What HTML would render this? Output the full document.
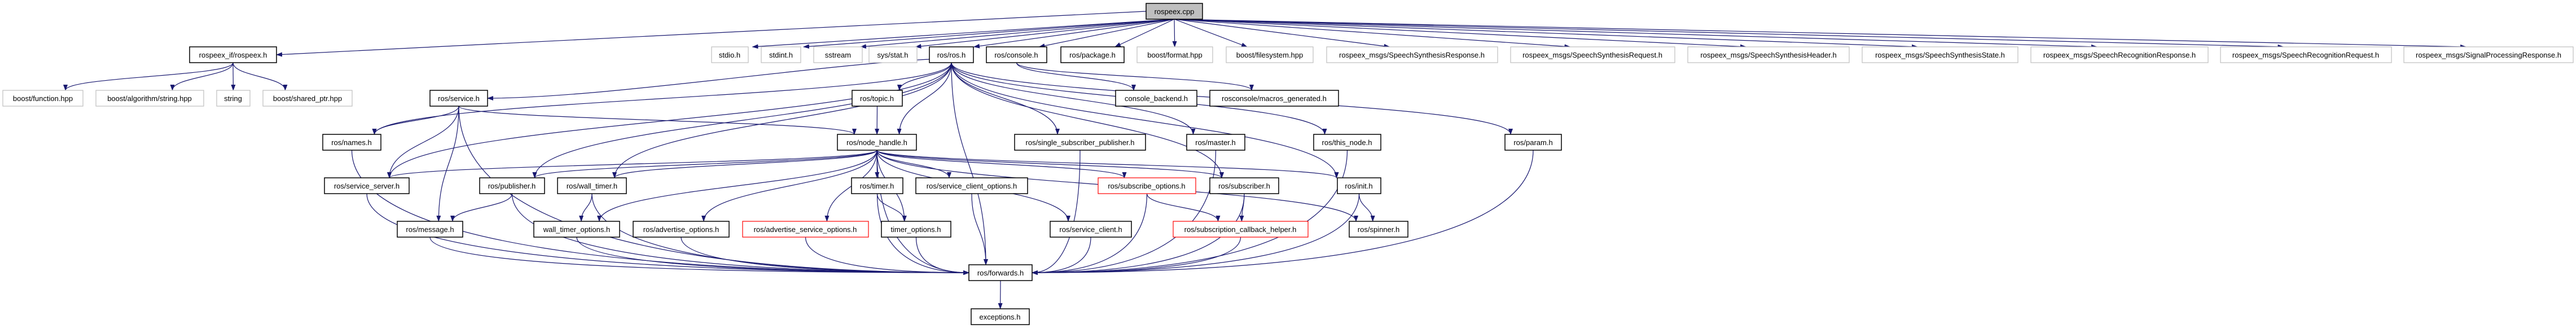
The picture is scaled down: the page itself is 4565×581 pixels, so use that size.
<!DOCTYPE html>
<html><head><meta charset="utf-8"><style>
html,body{margin:0;padding:0;background:#fff;width:4565px;height:581px;overflow:hidden}
svg text{font-family:"Liberation Sans",sans-serif;font-size:13px;fill:#000}
</style></head><body>
<svg id="g" width="4565" height="581" xmlns="http://www.w3.org/2000/svg">
<defs><marker id="a" markerWidth="11" markerHeight="8" refX="10" refY="4" orient="auto" markerUnits="userSpaceOnUse"><path d="M0,0 L11,4 L0,8 z" fill="#191970"/></marker></defs>
<g id="edges" fill="none" stroke="#191970" stroke-width="1.2"></g>
<g id="nodes">
<rect x="2031" y="6" width="100" height="28" fill="#bfbfbf" stroke="#000" stroke-width="1.5"/><text x="2081" y="25" text-anchor="middle">rospeex.cpp</text>
<rect x="336" y="83" width="154" height="28" fill="#fff" stroke="#000" stroke-width="1.5"/><text x="413" y="102" text-anchor="middle">rospeex_if/rospeex.h</text>
<rect x="1261" y="83" width="65" height="28" fill="#fff" stroke="#bfbfbf" stroke-width="1.2"/><text x="1293" y="102" text-anchor="middle">stdio.h</text>
<rect x="1349" y="83" width="70" height="28" fill="#fff" stroke="#bfbfbf" stroke-width="1.2"/><text x="1384" y="102" text-anchor="middle">stdint.h</text>
<rect x="1442" y="83" width="86" height="28" fill="#fff" stroke="#bfbfbf" stroke-width="1.2"/><text x="1485" y="102" text-anchor="middle">sstream</text>
<rect x="1540" y="83" width="85" height="28" fill="#fff" stroke="#bfbfbf" stroke-width="1.2"/><text x="1582" y="102" text-anchor="middle">sys/stat.h</text>
<rect x="1647" y="83" width="78" height="28" fill="#fff" stroke="#000" stroke-width="1.5"/><text x="1686" y="102" text-anchor="middle">ros/ros.h</text>
<rect x="1748" y="83" width="107" height="28" fill="#fff" stroke="#000" stroke-width="1.5"/><text x="1801" y="102" text-anchor="middle">ros/console.h</text>
<rect x="1880" y="83" width="112" height="28" fill="#fff" stroke="#000" stroke-width="1.5"/><text x="1936" y="102" text-anchor="middle">ros/package.h</text>
<rect x="2015" y="83" width="134" height="28" fill="#fff" stroke="#bfbfbf" stroke-width="1.2"/><text x="2082" y="102" text-anchor="middle">boost/format.hpp</text>
<rect x="2173" y="83" width="154" height="28" fill="#fff" stroke="#bfbfbf" stroke-width="1.2"/><text x="2250" y="102" text-anchor="middle">boost/filesystem.hpp</text>
<rect x="2351" y="83" width="303" height="28" fill="#fff" stroke="#bfbfbf" stroke-width="1.2"/><text x="2502" y="102" text-anchor="middle">rospeex_msgs/SpeechSynthesisResponse.h</text>
<rect x="2677" y="83" width="291" height="28" fill="#fff" stroke="#bfbfbf" stroke-width="1.2"/><text x="2822" y="102" text-anchor="middle">rospeex_msgs/SpeechSynthesisRequest.h</text>
<rect x="2991" y="83" width="286" height="28" fill="#fff" stroke="#bfbfbf" stroke-width="1.2"/><text x="3134" y="102" text-anchor="middle">rospeex_msgs/SpeechSynthesisHeader.h</text>
<rect x="3300" y="83" width="276" height="28" fill="#fff" stroke="#bfbfbf" stroke-width="1.2"/><text x="3438" y="102" text-anchor="middle">rospeex_msgs/SpeechSynthesisState.h</text>
<rect x="3599" y="83" width="314" height="28" fill="#fff" stroke="#bfbfbf" stroke-width="1.2"/><text x="3756" y="102" text-anchor="middle">rospeex_msgs/SpeechRecognitionResponse.h</text>
<rect x="3935" y="83" width="303" height="28" fill="#fff" stroke="#bfbfbf" stroke-width="1.2"/><text x="4086" y="102" text-anchor="middle">rospeex_msgs/SpeechRecognitionRequest.h</text>
<rect x="4260" y="83" width="300" height="28" fill="#fff" stroke="#bfbfbf" stroke-width="1.2"/><text x="4410" y="102" text-anchor="middle">rospeex_msgs/SignalProcessingResponse.h</text>
<rect x="5" y="160" width="142" height="28" fill="#fff" stroke="#bfbfbf" stroke-width="1.2"/><text x="76" y="179" text-anchor="middle">boost/function.hpp</text>
<rect x="170" y="160" width="191" height="28" fill="#fff" stroke="#bfbfbf" stroke-width="1.2"/><text x="265" y="179" text-anchor="middle">boost/algorithm/string.hpp</text>
<rect x="384" y="160" width="59" height="28" fill="#fff" stroke="#bfbfbf" stroke-width="1.2"/><text x="413" y="179" text-anchor="middle">string</text>
<rect x="466" y="160" width="158" height="28" fill="#fff" stroke="#bfbfbf" stroke-width="1.2"/><text x="545" y="179" text-anchor="middle">boost/shared_ptr.hpp</text>
<rect x="762" y="160" width="102" height="28" fill="#fff" stroke="#000" stroke-width="1.5"/><text x="813" y="179" text-anchor="middle">ros/service.h</text>
<rect x="1510" y="160" width="89" height="28" fill="#fff" stroke="#000" stroke-width="1.5"/><text x="1554" y="179" text-anchor="middle">ros/topic.h</text>
<rect x="1977" y="160" width="144" height="28" fill="#fff" stroke="#000" stroke-width="1.5"/><text x="2049" y="179" text-anchor="middle">console_backend.h</text>
<rect x="2144" y="160" width="228" height="28" fill="#fff" stroke="#000" stroke-width="1.5"/><text x="2258" y="179" text-anchor="middle">rosconsole/macros_generated.h</text>
<rect x="572" y="238" width="103" height="28" fill="#fff" stroke="#000" stroke-width="1.5"/><text x="623" y="257" text-anchor="middle">ros/names.h</text>
<rect x="1484" y="238" width="140" height="28" fill="#fff" stroke="#000" stroke-width="1.5"/><text x="1554" y="257" text-anchor="middle">ros/node_handle.h</text>
<rect x="1798" y="238" width="232" height="28" fill="#fff" stroke="#000" stroke-width="1.5"/><text x="1914" y="257" text-anchor="middle">ros/single_subscriber_publisher.h</text>
<rect x="2103" y="238" width="103" height="28" fill="#fff" stroke="#000" stroke-width="1.5"/><text x="2154" y="257" text-anchor="middle">ros/master.h</text>
<rect x="2328" y="238" width="119" height="28" fill="#fff" stroke="#000" stroke-width="1.5"/><text x="2387" y="257" text-anchor="middle">ros/this_node.h</text>
<rect x="2667" y="238" width="100" height="28" fill="#fff" stroke="#000" stroke-width="1.5"/><text x="2717" y="257" text-anchor="middle">ros/param.h</text>
<rect x="575" y="315" width="150" height="28" fill="#fff" stroke="#000" stroke-width="1.5"/><text x="650" y="334" text-anchor="middle">ros/service_server.h</text>
<rect x="850" y="315" width="115" height="28" fill="#fff" stroke="#000" stroke-width="1.5"/><text x="907" y="334" text-anchor="middle">ros/publisher.h</text>
<rect x="988" y="315" width="122" height="28" fill="#fff" stroke="#000" stroke-width="1.5"/><text x="1049" y="334" text-anchor="middle">ros/wall_timer.h</text>
<rect x="1509" y="315" width="91" height="28" fill="#fff" stroke="#000" stroke-width="1.5"/><text x="1554" y="334" text-anchor="middle">ros/timer.h</text>
<rect x="1623" y="315" width="198" height="28" fill="#fff" stroke="#000" stroke-width="1.5"/><text x="1722" y="334" text-anchor="middle">ros/service_client_options.h</text>
<rect x="1946" y="315" width="173" height="28" fill="#fff" stroke="#ff0000" stroke-width="1.2"/><text x="2032" y="334" text-anchor="middle">ros/subscribe_options.h</text>
<rect x="2144" y="315" width="122" height="28" fill="#fff" stroke="#000" stroke-width="1.5"/><text x="2205" y="334" text-anchor="middle">ros/subscriber.h</text>
<rect x="2370" y="315" width="77" height="28" fill="#fff" stroke="#000" stroke-width="1.5"/><text x="2408" y="334" text-anchor="middle">ros/init.h</text>
<rect x="704" y="392" width="116" height="28" fill="#fff" stroke="#000" stroke-width="1.5"/><text x="762" y="411" text-anchor="middle">ros/message.h</text>
<rect x="946" y="392" width="152" height="28" fill="#fff" stroke="#000" stroke-width="1.5"/><text x="1022" y="411" text-anchor="middle">wall_timer_options.h</text>
<rect x="1122" y="392" width="170" height="28" fill="#fff" stroke="#000" stroke-width="1.5"/><text x="1207" y="411" text-anchor="middle">ros/advertise_options.h</text>
<rect x="1316" y="392" width="223" height="28" fill="#fff" stroke="#ff0000" stroke-width="1.2"/><text x="1427" y="411" text-anchor="middle">ros/advertise_service_options.h</text>
<rect x="1562" y="392" width="123" height="28" fill="#fff" stroke="#000" stroke-width="1.5"/><text x="1623" y="411" text-anchor="middle">timer_options.h</text>
<rect x="1861" y="392" width="144" height="28" fill="#fff" stroke="#000" stroke-width="1.5"/><text x="1933" y="411" text-anchor="middle">ros/service_client.h</text>
<rect x="2079" y="392" width="239" height="28" fill="#fff" stroke="#ff0000" stroke-width="1.2"/><text x="2198" y="411" text-anchor="middle">ros/subscription_callback_helper.h</text>
<rect x="2391" y="392" width="104" height="28" fill="#fff" stroke="#000" stroke-width="1.5"/><text x="2443" y="411" text-anchor="middle">ros/spinner.h</text>
<rect x="1717" y="469" width="112" height="28" fill="#fff" stroke="#000" stroke-width="1.5"/><text x="1773" y="488" text-anchor="middle">ros/forwards.h</text>
<rect x="1721" y="547" width="103" height="28" fill="#fff" stroke="#000" stroke-width="1.5"/><text x="1772" y="566" text-anchor="middle">exceptions.h</text>
</g>
</svg>
<script>
var N={};
document.querySelectorAll('#nodes rect').forEach(function(r){var t=r.nextElementSibling.textContent;N[t]=[+r.getAttribute('x'),+r.getAttribute('y'),+r.getAttribute('x')+ +r.getAttribute('width'),+r.getAttribute('y')+ +r.getAttribute('height')];});
var E=[
['rospeex.cpp','rospeex_if/rospeex.h','L'],
['rospeex.cpp','stdio.h'],['rospeex.cpp','stdint.h'],['rospeex.cpp','sstream'],['rospeex.cpp','sys/stat.h'],['rospeex.cpp','ros/ros.h'],['rospeex.cpp','ros/console.h'],['rospeex.cpp','ros/package.h'],['rospeex.cpp','boost/format.hpp'],['rospeex.cpp','boost/filesystem.hpp'],
['rospeex.cpp','rospeex_msgs/SpeechSynthesisResponse.h'],['rospeex.cpp','rospeex_msgs/SpeechSynthesisRequest.h'],['rospeex.cpp','rospeex_msgs/SpeechSynthesisHeader.h'],['rospeex.cpp','rospeex_msgs/SpeechSynthesisState.h'],['rospeex.cpp','rospeex_msgs/SpeechRecognitionResponse.h'],['rospeex.cpp','rospeex_msgs/SpeechRecognitionRequest.h'],['rospeex.cpp','rospeex_msgs/SignalProcessingResponse.h'],
['rospeex_if/rospeex.h','boost/function.hpp'],['rospeex_if/rospeex.h','boost/algorithm/string.hpp'],['rospeex_if/rospeex.h','string'],['rospeex_if/rospeex.h','boost/shared_ptr.hpp'],
['ros/ros.h','ros/service.h','R'],['ros/ros.h','ros/names.h'],['ros/ros.h','ros/service_server.h'],['ros/ros.h','ros/publisher.h'],['ros/ros.h','ros/topic.h'],['ros/ros.h','ros/node_handle.h'],['ros/ros.h','ros/single_subscriber_publisher.h'],['ros/ros.h','ros/master.h'],['ros/ros.h','ros/this_node.h'],['ros/ros.h','ros/param.h'],['ros/ros.h','ros/init.h'],['ros/ros.h','ros/forwards.h'],['ros/ros.h','ros/subscriber.h'],['ros/ros.h','ros/wall_timer.h'],
['ros/console.h','console_backend.h'],['ros/console.h','rosconsole/macros_generated.h'],
['ros/service.h','ros/names.h'],['ros/service.h','ros/service_server.h'],['ros/service.h','ros/message.h'],['ros/service.h','ros/node_handle.h'],['ros/service.h','ros/forwards.h'],
['ros/topic.h','ros/node_handle.h'],
['ros/node_handle.h','ros/service_server.h'],['ros/node_handle.h','ros/publisher.h'],['ros/node_handle.h','ros/wall_timer.h'],['ros/node_handle.h','wall_timer_options.h'],['ros/node_handle.h','ros/advertise_options.h'],['ros/node_handle.h','ros/advertise_service_options.h'],['ros/node_handle.h','ros/timer.h'],['ros/node_handle.h','timer_options.h'],['ros/node_handle.h','ros/service_client_options.h'],['ros/node_handle.h','ros/service_client.h'],['ros/node_handle.h','ros/subscribe_options.h'],['ros/node_handle.h','ros/subscriber.h'],['ros/node_handle.h','ros/forwards.h'],['ros/node_handle.h','ros/init.h'],['ros/node_handle.h','ros/spinner.h'],
['ros/names.h','ros/forwards.h'],['ros/service_server.h','ros/forwards.h'],['ros/publisher.h','ros/message.h'],['ros/publisher.h','ros/forwards.h'],['ros/wall_timer.h','wall_timer_options.h'],['ros/wall_timer.h','ros/forwards.h'],
['ros/timer.h','timer_options.h'],['ros/timer.h','ros/forwards.h'],['ros/service_client_options.h','ros/forwards.h'],['ros/subscribe_options.h','ros/subscription_callback_helper.h'],['ros/subscribe_options.h','ros/forwards.h'],['ros/subscriber.h','ros/subscription_callback_helper.h'],['ros/subscriber.h','ros/forwards.h'],['ros/init.h','ros/spinner.h'],['ros/init.h','ros/forwards.h'],
['ros/single_subscriber_publisher.h','ros/forwards.h'],['ros/master.h','ros/forwards.h'],['ros/this_node.h','ros/forwards.h'],['ros/param.h','ros/forwards.h'],
['ros/message.h','ros/forwards.h'],['wall_timer_options.h','ros/forwards.h'],['ros/advertise_options.h','ros/forwards.h'],['ros/advertise_service_options.h','ros/forwards.h'],['timer_options.h','ros/forwards.h'],['ros/service_client.h','ros/forwards.h'],['ros/subscription_callback_helper.h','ros/forwards.h'],
['ros/forwards.h','exceptions.h']
];
var g=document.getElementById('edges'),s='';
E.forEach(function(e){var a=N[e[0]],b=N[e[1]];if(!a||!b)return;
var sx=(a[0]+a[2])/2,sy=a[3],ex,ey,d;
if(e[2]=='L'){sx=a[0];sy=(a[1]+a[3])/2;ex=b[2];ey=(b[1]+b[3])/2;d='M'+sx+','+sy+' L'+ex+','+ey;}
else if(e[2]=='R'){sx=a[0];sy=a[3]-6;ex=b[2];ey=(b[1]+b[3])/2;d='M'+sx+','+sy+' C'+(sx-200)+','+(sy+10)+' '+(ex+200)+','+ey+' '+ex+','+ey;}
else{var bc=(b[0]+b[2])/2;
 if(e[1]=='ros/forwards.h'&&bc<b[0]-60){ex=b[0];ey=(b[1]+b[3])/2;}
 else if(e[1]=='ros/forwards.h'&&bc>b[2]+60){ex=b[2];ey=(b[1]+b[3])/2;}
 else{ex=bc+Math.max(-40,Math.min(40,(sx-bc)*0.3));ey=b[1];}
 if(e[1]=='ros/forwards.h'){var cx=(a[0]+a[2])/2;
   if(cx<b[0]-60){ex=b[0];ey=(b[1]+b[3])/2;}else if(cx>b[2]+60){ex=b[2];ey=(b[1]+b[3])/2;}else{ex=cx<(b[0]+b[2])/2?b[0]+30:b[2]-30;if(Math.abs(cx-(b[0]+b[2])/2)<20)ex=(b[0]+b[2])/2;ey=b[1];}
   sx=Math.max(a[0]+10,Math.min(a[2]-10,sx));
   if(ey!=b[1]){d='M'+sx+','+sy+' C'+sx+','+(sy+(ey-sy)*0.8)+' '+(sx+(ex-sx)*0.5)+','+ey+' '+ex+','+ey;}
   else{d='M'+sx+','+sy+' C'+sx+','+(sy+(ey-sy)*0.5)+' '+ex+','+(ey-(ey-sy)*0.5)+' '+ex+','+ey;}
 } else if(a[1]<40){d='M'+sx+','+sy+' L'+ex+','+ey;}
 else{var dy=ey-sy;d='M'+sx+','+sy+' C'+sx+','+(sy+dy*0.5)+' '+ex+','+(ey-dy*0.5)+' '+ex+','+ey;}}
s+='<path d="'+d+'" marker-end="url(#a)"/>';});
g.innerHTML=s;
</script>
</body></html>
